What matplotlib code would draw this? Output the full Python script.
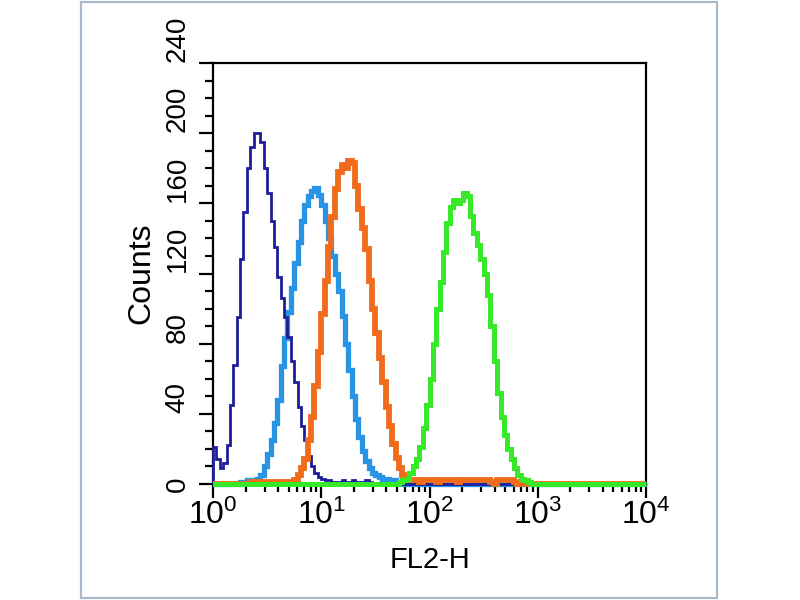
import numpy as np
import matplotlib
matplotlib.use("Agg")
import matplotlib.pyplot as plt
from matplotlib.patches import Rectangle
from matplotlib.transforms import ScaledTranslation
from matplotlib.ticker import LogLocator, NullFormatter, MultipleLocator
from matplotlib import font_manager

# ---------------- data ----------------
channels_per_decade = 32
n_decades = 4

x_ticks = [1, 10, 100, 1000, 10000]
x_tick_labels = [r'$\mathregular{10^{0}}$', r'$\mathregular{10^{1}}$',
                 r'$\mathregular{10^{2}}$', r'$\mathregular{10^{3}}$',
                 r'$\mathregular{10^{4}}$']
y_ticks = [0, 40, 80, 120, 160, 200, 240]
y_tick_labels = ['0', '40', '80', '120', '160', '200', '240']

# histogram counts per channel (start channel + counts)
navy_start = 0
navy_counts = [21, 14, 9, 12, 22, 45, 68, 95, 128, 155, 180, 192, 200, 200, 195,
               180, 166, 150, 135, 118, 106, 95, 84, 70, 58, 44, 33, 25, 16, 10,
               6, 4, 3, 2, 2, 1, 1, 1, 2, 1, 1, 2, 1, 1, 1, 2, 1, 0]

lightblue_start = 8
lightblue_counts = [1, 1, 2, 2, 2, 3, 5, 10, 17, 25, 35, 48, 67, 83, 98, 112, 126,
                    138, 150, 159, 164, 167, 169, 165, 159, 150, 140, 130, 120,
                    110, 96, 80, 65, 50, 37, 27, 19, 13, 9, 6, 5, 4, 3, 3, 2, 2,
                    1, 1, 0]

orange_start = 11
orange_counts = [1, 1, 1, 1, 1, 1, 1, 1, 1, 1, 1, 1, 1, 2, 5, 9, 14, 25, 38, 56,
                 75, 97, 116, 135, 152, 168, 178, 182, 180, 184, 183, 170, 157,
                 146, 134, 116, 100, 86, 72, 58, 44, 33, 23, 15, 9, 5, 3,
                 2, 2, 2, 1, 2, 2, 2, 2, 1, 2, 2, 2, 2, 2, 1, 2, 2, 2, 2, 2, 2,
                 2, 2, 2, 1, 0, 2, 2, 2, 2, 2, 1, 0]

green_start = 55
green_counts = [1, 2, 3, 6, 10, 14, 21, 32, 45, 60, 80, 100, 115, 132, 149, 158,
                162, 160, 162, 166, 164, 153, 143, 136, 128, 120, 108, 90, 70,
                52, 38, 28, 20, 14, 9, 5, 3, 2, 1]

series = [
    (lightblue_start, lightblue_counts, '#2a94e4', 3.8),
    (navy_start, navy_counts, '#1e1e9a', 2.0),
    (orange_start, orange_counts, '#f06c1c', 4.2),
    (green_start, green_counts, '#36ea2a', 3.6),
]

# ---------------- figure ----------------
plt.rcParams['font.family'] = ['Liberation Sans', 'DejaVu Sans']
plt.rcParams['mathtext.fontset'] = 'custom'
plt.rcParams['mathtext.rm'] = 'Liberation Sans'

installed = {f.name for f in font_manager.fontManager.ttflist}
ytick_family = ['Liberation Sans Narrow'] if 'Liberation Sans Narrow' in installed \
    else ['Liberation Sans']

fig = plt.figure(figsize=(8, 6), dpi=100)
fig.patch.set_facecolor('white')
fig.patches.append(Rectangle((81 / 800, 2 / 600), 636 / 800, 596 / 600,
                             transform=fig.transFigure, fill=False,
                             edgecolor='#a9b9cc', linewidth=1.6))

ax = fig.add_axes([213 / 800, 116 / 600, 433 / 800, 421 / 600])

n_ch = channels_per_decade * n_decades
edges = np.logspace(0, n_decades, n_ch + 1)

for start, vals, color, lw in series:
    counts = np.zeros(n_ch)
    counts[start:start + len(vals)] = vals
    ax.stairs(counts, edges, color=color, linewidth=lw, baseline=0,
              zorder=3, clip_on=False)

ax.set_xscale('log')
ax.set_xlim(1, 10000)
ax.set_ylim(0, 240)

for s in ax.spines.values():
    s.set_linewidth(1.6)
    s.set_color('black')

ax.set_xticks(x_ticks)
ax.set_xticklabels(x_tick_labels, fontsize=23)
ax.xaxis.set_minor_locator(LogLocator(base=10, subs=np.arange(2, 10)))
ax.xaxis.set_minor_formatter(NullFormatter())

ax.set_yticks(y_ticks)
ax.set_yticklabels(y_tick_labels, fontsize=20, rotation=90, family=ytick_family)
ax.yaxis.set_minor_locator(MultipleLocator(10))

ax.tick_params(axis='both', which='major', direction='out', length=10,
               width=1.6, color='black')
ax.tick_params(axis='both', which='minor', direction='out', length=6,
               width=1.6, color='black')
ax.tick_params(axis='x', which='major', pad=1)
ax.tick_params(axis='y', which='major', pad=6)

offset = ScaledTranslation(0, 0.01, fig.dpi_scale_trans)
for tick in ax.yaxis.get_major_ticks():
    lab = tick.label1
    if lab.get_text() == '0':
        lab.set_va('center')
    else:
        lab.set_va('bottom')
        lab.set_transform(lab.get_transform() + offset)

ax.set_xlabel('FL2-H', fontsize=21, va='center')
ax.xaxis.set_label_coords(0.5, (484 - 560) / 421)
ax.set_ylabel('Counts', fontsize=23, va='center')
ax.yaxis.set_label_coords((141 - 213) / 433, 0.5)

fig.savefig('out.png', dpi=100, facecolor='white')
